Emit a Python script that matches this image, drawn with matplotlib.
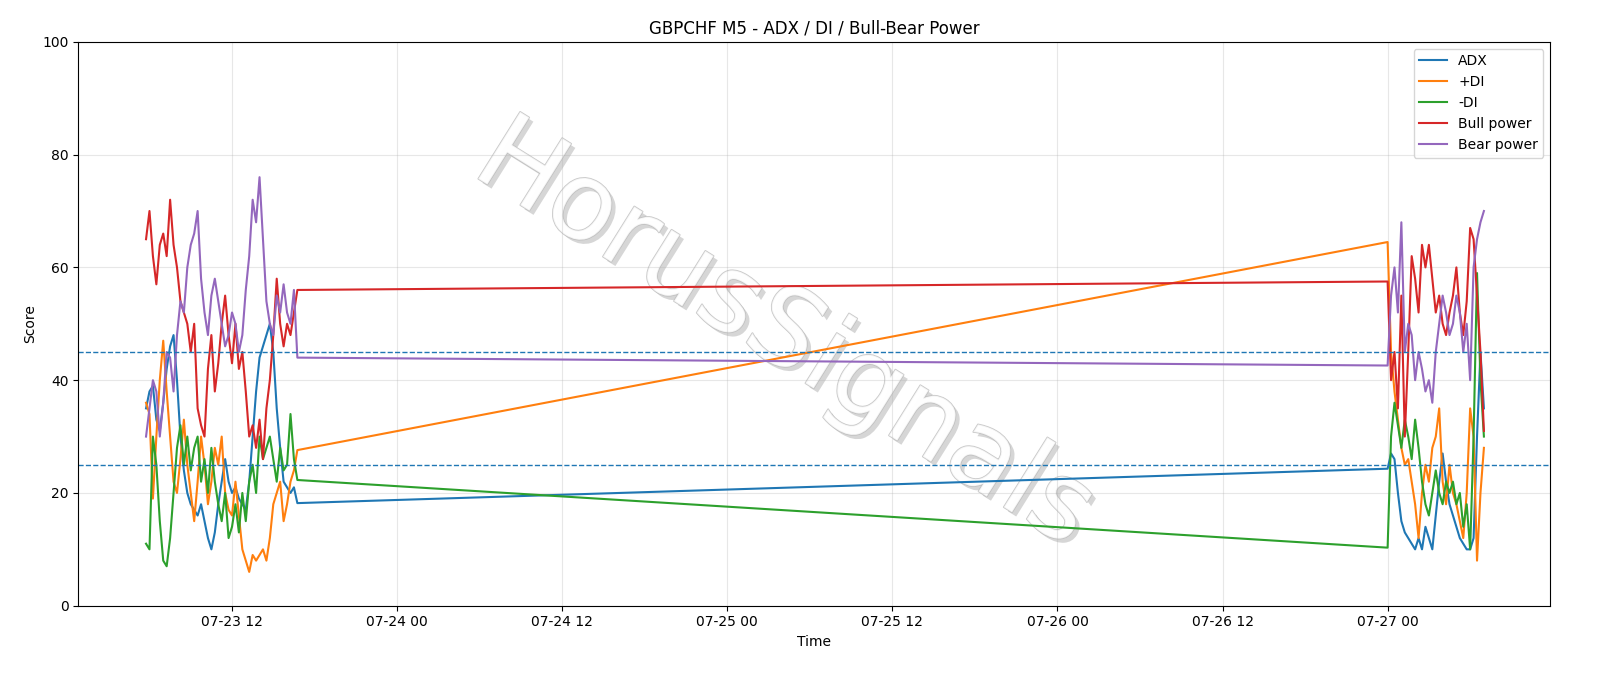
import matplotlib
matplotlib.use('Agg')
import matplotlib.pyplot as plt
import matplotlib.patheffects as pe
import matplotlib.dates as mdates
import pandas as pd

# segment 1: 07-23 05:45 .. 16:45, segment 2: 07-27 00:00 .. 07:00 (15 min steps)
t1 = pd.date_range('2024-07-23 05:45', '2024-07-23 16:45', freq='15min')
t2 = pd.date_range('2024-07-27 00:00', '2024-07-27 07:00', freq='15min')

adx1 = [35, 38, 39, 33, 31, 36, 42, 46, 48, 40, 30, 24, 20, 18, 17, 16, 18, 15, 12, 10, 13, 18, 22, 26, 22, 20, 21,
        19, 18, 17, 22, 30, 38, 44, 46, 48, 50, 45, 35, 28, 22, 21, 20, 21, 18.2]
pdi1 = [36, 34, 19, 30, 40, 47, 38, 30, 22, 20, 26, 33, 25, 20, 15, 22, 30, 25, 18, 22, 28, 25, 30, 20, 17, 16, 22,
        16, 10, 8, 6, 9, 8, 9, 10, 8, 12, 18, 20, 22, 15, 18, 22, 24, 27.6]
mdi1 = [11, 10, 30, 25, 15, 8, 7, 12, 20, 28, 32, 25, 30, 24, 28, 30, 22, 26, 20, 28, 22, 18, 15, 20, 12, 14, 18,
        13, 20, 15, 22, 25, 20, 30, 26, 28, 30, 26, 22, 28, 24, 25, 34, 26, 22.3]
bull1 = [65, 70, 62, 57, 64, 66, 62, 72, 64, 60, 54, 52, 50, 45, 50, 35, 32, 30, 42, 48, 38, 43, 50, 55, 48, 43, 50,
         42, 45, 38, 30, 32, 28, 33, 26, 35, 40, 48, 58, 50, 46, 50, 48, 52, 56]
bear1 = [30, 35, 40, 38, 30, 36, 45, 44, 38, 48, 54, 52, 60, 64, 66, 70, 58, 52, 48, 55, 58, 54, 50, 46, 48, 52, 50,
         45, 48, 56, 62, 72, 68, 76, 65, 54, 50, 48, 55, 52, 57, 52, 50, 56, 44]

adx2 = [24.3, 27, 26, 20, 15, 13, 12, 11, 10, 12, 10, 14, 12, 10, 16, 22, 27, 22, 18, 16, 14, 12, 11, 10, 10, 12, 30,
        45, 35]
pdi2 = [64.5, 45, 38, 33, 28, 25, 26, 22, 18, 12, 20, 25, 22, 28, 30, 35, 22, 18, 25, 20, 18, 15, 12, 20, 35, 30, 8,
        20, 28]
mdi2 = [10.3, 30, 36, 32, 28, 33, 30, 26, 33, 28, 22, 18, 16, 20, 24, 20, 18, 22, 20, 22, 18, 20, 14, 18, 10, 30, 59,
        40, 30]
bull2 = [57.5, 40, 45, 35, 55, 30, 45, 62, 58, 52, 64, 60, 64, 58, 52, 55, 50, 48, 52, 55, 60, 52, 48, 54, 67, 65, 55,
         45, 31]
bear2 = [42.6, 55, 60, 52, 68, 45, 50, 48, 40, 45, 42, 38, 40, 36, 45, 50, 55, 52, 48, 50, 55, 52, 45, 50, 40, 60, 65,
         68, 70]

t = t1.append(t2)
series = [('ADX', adx1 + adx2), ('+DI', pdi1 + pdi2), ('-DI', mdi1 + mdi2),
          ('Bull power', bull1 + bull2), ('Bear power', bear1 + bear2)]

fig, ax = plt.subplots(figsize=(16, 6.86), dpi=100)
fig.subplots_adjust(left=0.049, right=0.969, top=0.939, bottom=0.117)

# watermark
ax.text(0.48, 0.48, 'HorusSignals', transform=ax.transAxes, fontsize=78, rotation=-32,
        ha='center', va='center', color='white', alpha=0.8,
        path_effects=[pe.withSimplePatchShadow(offset=(3, -3), shadow_rgbFace='#999999', alpha=0.4),
                      pe.withStroke(linewidth=1.2, foreground='#bbbbbb')], zorder=0)

for name, vals in series:
    ax.plot(t, vals, label=name, lw=1.5)

ax.axhline(45, ls='--', lw=1, color='tab:blue')
ax.axhline(25, ls='--', lw=1, color='tab:blue')

ax.set_ylim(0, 100)
ax.set_xlim(pd.Timestamp('2024-07-23 00:50'), pd.Timestamp('2024-07-27 11:50'))
ax.xaxis.set_major_locator(mdates.HourLocator(byhour=[0, 12]))
ax.xaxis.set_major_formatter(mdates.DateFormatter('%m-%d %H'))
ax.grid(True, alpha=0.3)
ax.set_xlabel('Time')
ax.set_ylabel('Score')
ax.set_title('GBPCHF M5 - ADX / DI / Bull-Bear Power')
ax.legend(loc='upper right')

fig.savefig('out.png')
